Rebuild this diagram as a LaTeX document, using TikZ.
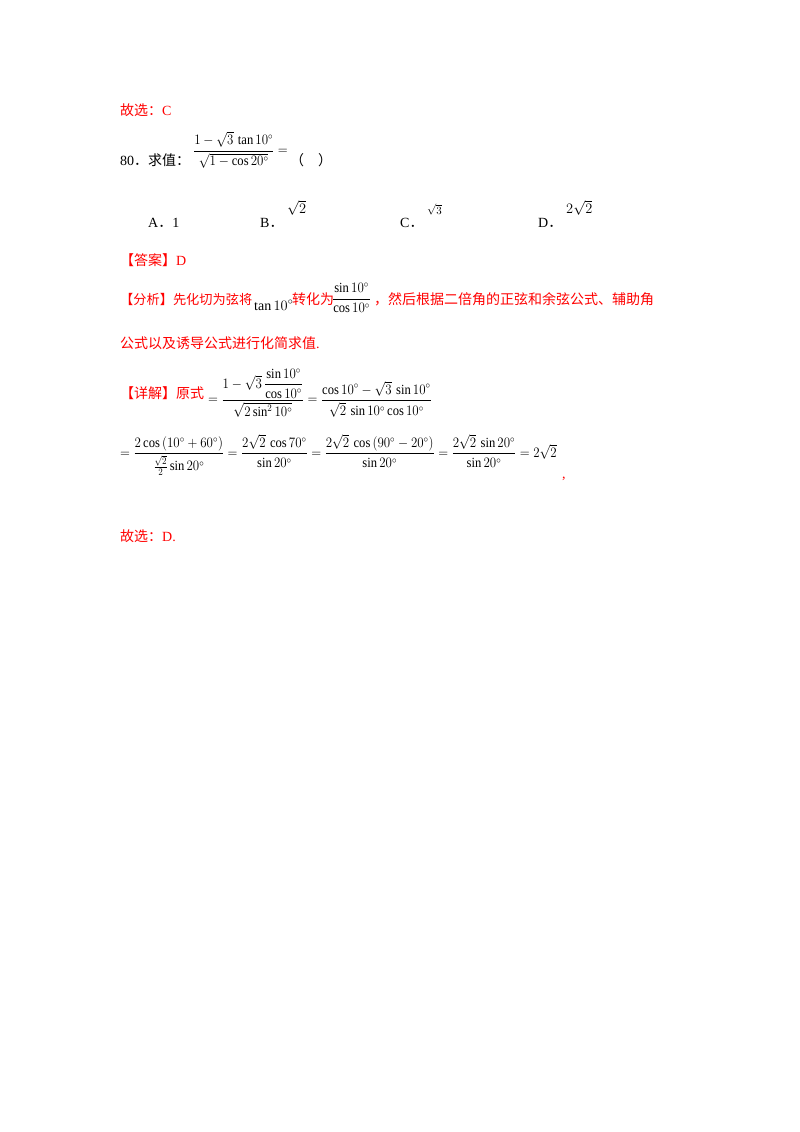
\documentclass[tikz,border=0pt]{standalone}
\usepackage{fontspec}
\usepackage{amsmath}
\setmainfont{Liberation Serif}
\newfontfamily\cjk{Noto Sans CJK SC}
\definecolor{ansred}{RGB}{255,0,0}
\begin{document}
\begin{tikzpicture}[x=1pt,y=-1pt]
\tikzset{t/.style={anchor=base west,inner sep=0pt,font=\fontsize{14}{16}\selectfont},
 r/.style={t,text=ansred},
 m/.style={t,anchor=west,xscale=0.9,transform shape}}
\useasboundingbox (0,0) rectangle (800,1132);
\node[r] (l1) at (120,115) {\cjk 故选：\rmfamily C};
\node[t] (q) at (120,165) {80\cjk．求值：};
\node[m] (qf) at (193,150) {$\dfrac{1-\sqrt{3}\,\tan 10^{\circ}}{\sqrt{1-\cos 20^{\circ}}}=$};
\node[t] (qp) at (290,165) {\cjk （\quad ）};
\node[t] (oa) at (148,227) {A\cjk．\rmfamily 1};
\node[t] (ob) at (260,227) {B\cjk．};
\node[t] (obv) at (287,213) {$\sqrt{2}$};
\node[t] (oc) at (400,227) {C\cjk．};
\node[t,font=\fontsize{11}{13}\selectfont] (ocv) at (427,214) {$\sqrt{3}$};
\node[t] (od) at (538,227) {D\cjk．};
\node[t] (odv) at (566,213) {$2\sqrt{2}$};
\node[r] (ans) at (120,265) {\cjk 【答案】\rmfamily D};
\node[r,font=\fontsize{13.2}{15}\selectfont] (an1) at (120,304) {\cjk 【分析】先化切为弦将};
\node[t] (an2) at (254,310) {$\tan 10^{\circ}$};
\node[r] (an3) at (292,304) {\cjk 转化为};
\node[m] (an4) at (332,298) {$\dfrac{\sin 10^{\circ}}{\cos 10^{\circ}}$};
\node[r] (an5) at (374,304) {\cjk ，然后根据二倍角的正弦和余弦公式、辅助角};
\node[r] (an6) at (120,348) {\cjk 公式以及诱导公式进行化简求值\rmfamily .};
\node[r] (d1) at (120,398) {\cjk 【详解】原式};
\node[m] (d2) at (208,393) {$=\dfrac{1-\sqrt{3}\,\dfrac{\sin 10^{\circ}}{\cos 10^{\circ}}}{\sqrt{2\sin^{2}10^{\circ}}}=\dfrac{\cos 10^{\circ}-\sqrt{3}\,\sin 10^{\circ}}{\sqrt{2}\,\sin 10^{\circ}\cos 10^{\circ}}$};
\node[m] (d3) at (120,455) {$=\dfrac{2\cos\left(10^{\circ}+60^{\circ}\right)}{\frac{\sqrt{2}}{2}\sin 20^{\circ}}=\dfrac{2\sqrt{2}\,\cos 70^{\circ}}{\sin 20^{\circ}}=\dfrac{2\sqrt{2}\,\cos\left(90^{\circ}-20^{\circ}\right)}{\sin 20^{\circ}}=\dfrac{2\sqrt{2}\,\sin 20^{\circ}}{\sin 20^{\circ}}=2\sqrt{2}$};
\node[r] (d4) at (562,478) {,};
\node[r] (end) at (120,541) {\cjk 故选：\rmfamily D.};
\end{tikzpicture}
\end{document}
